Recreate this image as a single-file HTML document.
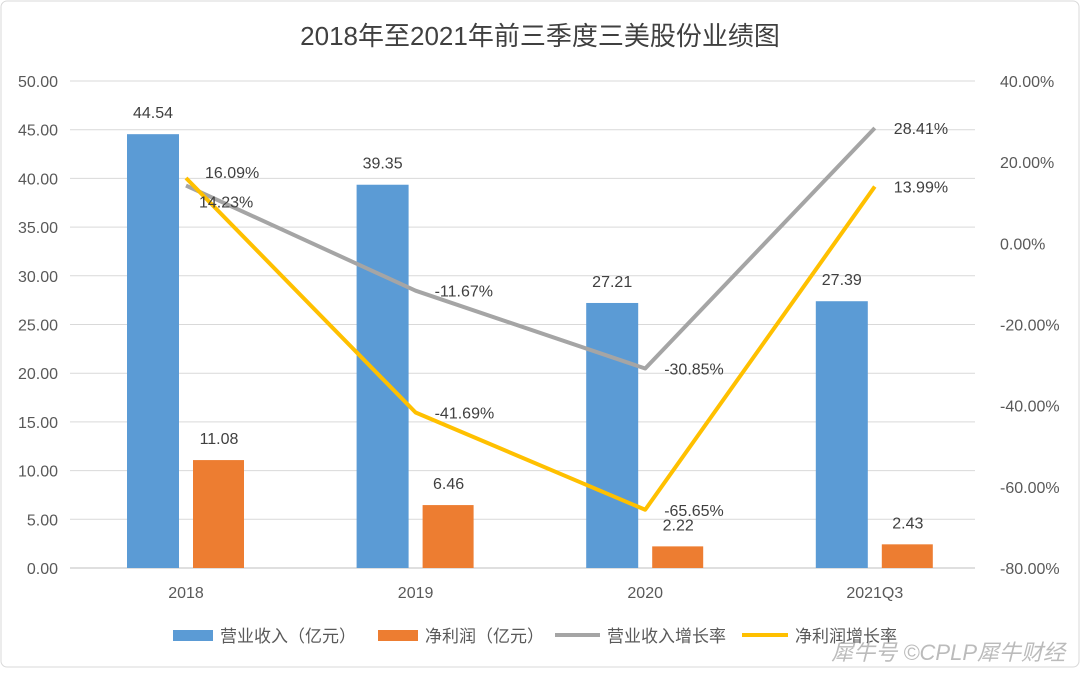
<!DOCTYPE html>
<html><head><meta charset="utf-8">
<style>
html,body{margin:0;padding:0;background:#fff;}
body{width:1080px;height:668px;overflow:hidden;font-family:"Liberation Sans","Noto Sans CJK SC",sans-serif;}
</style></head>
<body>
<svg id="chart" width="1080" height="668" xmlns="http://www.w3.org/2000/svg" font-family="Liberation Sans, Noto Sans CJK SC, sans-serif">
<rect x="1" y="1" width="1078" height="666" rx="6" fill="#fff" stroke="#d9d9d9"/>
<text x="540" y="45" text-anchor="middle" font-size="26" fill="#404040">2018年至2021年前三季度三美股份业绩图</text>
<g id="grid"></g><g id="bars"></g><g id="lines"></g><g id="labels"></g><g id="axes"></g>
<g font-size="17" fill="#595959">
<rect x="173" y="630" width="40" height="11" fill="#5b9bd5"/>
<text x="220" y="642">营业收入（亿元）</text>
<rect x="378" y="630" width="40" height="11" fill="#ed7d31"/>
<text x="425" y="642">净利润（亿元）</text>
<line x1="555" y1="635" x2="600" y2="635" stroke="#a5a5a5" stroke-width="4"/>
<text x="607" y="642">营业收入增长率</text>
<line x1="742" y1="635" x2="788" y2="635" stroke="#ffc000" stroke-width="4"/>
<text x="795" y="642">净利润增长率</text>
</g>
<text x="1065" y="660" text-anchor="end" font-size="22" fill="#bbbbbb" font-style="italic">犀牛号 ©CPLP犀牛财经</text>
</svg>
<script>
const categories=["2018","2019","2020","2021Q3"];
const revenue=[44.54,39.35,27.21,27.39];
const profit=[11.08,6.46,2.22,2.43];
const revGrowth=[14.23,-11.67,-30.85,28.41];
const profGrowth=[16.09,-41.69,-65.65,13.99];
const leftTicks=[0,5,10,15,20,25,30,35,40,45,50];
const rightTicks=[-80,-60,-40,-20,0,20,40];
const NS="http://www.w3.org/2000/svg";
const plotL=70,plotR=975,y0=568,y1=81;
const yL=v=>y0-(v/50)*(y0-y1);
const yR=v=>y0-((v+80)/120)*(y0-y1);
const xC=i=>186+i*229.6;
function mk(tag,attrs,parent,text){const e=document.createElementNS(NS,tag);for(const k in attrs)e.setAttribute(k,attrs[k]);if(text!==undefined)e.textContent=text;document.getElementById(parent).appendChild(e);return e;}
leftTicks.forEach(t=>{
  const g=mk("line",{x1:plotL,x2:plotR,y1:yL(t),y2:yL(t),stroke:t===0?"#bfbfbf":"#d9d9d9"},"grid");
  
  
  const l=mk("text",{x:58,y:yL(t)+6,"text-anchor":"end","font-size":"16",fill:"#595959"},"axes",t.toFixed(2));
  
  
});
rightTicks.forEach(t=>{
  const l=mk("text",{x:1000,y:yR(t)+6,"font-size":"16",fill:"#595959"},"axes",t.toFixed(2)+"%");
  
  
});
categories.forEach((c,i)=>{
  const l=mk("text",{x:xC(i),y:598,"text-anchor":"middle","font-size":"16",fill:"#595959"},"axes",c);
  
  
  const b1=mk("rect",{x:xC(i)-59,y:yL(revenue[i]),width:52,height:y0-yL(revenue[i]),fill:"#5b9bd5"},"bars");
  
  
  const b2=mk("rect",{x:xC(i)+7,y:yL(profit[i]),width:51,height:y0-yL(profit[i]),fill:"#ed7d31"},"bars");
  
  
  const t1=mk("text",{x:xC(i)-33,y:yL(revenue[i])-16,"text-anchor":"middle","font-size":"16",fill:"#404040"},"labels",revenue[i].toFixed(2));
  
  
  const t2=mk("text",{x:xC(i)+33,y:yL(profit[i])-16,"text-anchor":"middle","font-size":"16",fill:"#404040"},"labels",profit[i].toFixed(2));
  
  
});
function series(arr,color,name){
  const p=mk("polyline",{points:arr.map((v,i)=>xC(i)+","+yR(v)).join(" "),fill:"none",stroke:color,"stroke-width":"4","stroke-linejoin":"round"},"lines");
  
  
}
series(revGrowth,"#a5a5a5","line-revenue-growth");
series(profGrowth,"#ffc000","line-profit-growth");
revGrowth.forEach((v,i)=>{
  const dy=i===0?22:(i===3?6:6);
  const t=mk("text",{x:xC(i)+(i===0?13:19),y:yR(v)+dy,"font-size":"16",fill:"#404040"},"labels",v.toFixed(2)+"%");
  
  
});
profGrowth.forEach((v,i)=>{
  const t=mk("text",{x:xC(i)+19,y:yR(v)+(i===0?0:6),"font-size":"16",fill:"#404040"},"labels",v.toFixed(2)+"%");
  
  
});
</script>
</body></html>
